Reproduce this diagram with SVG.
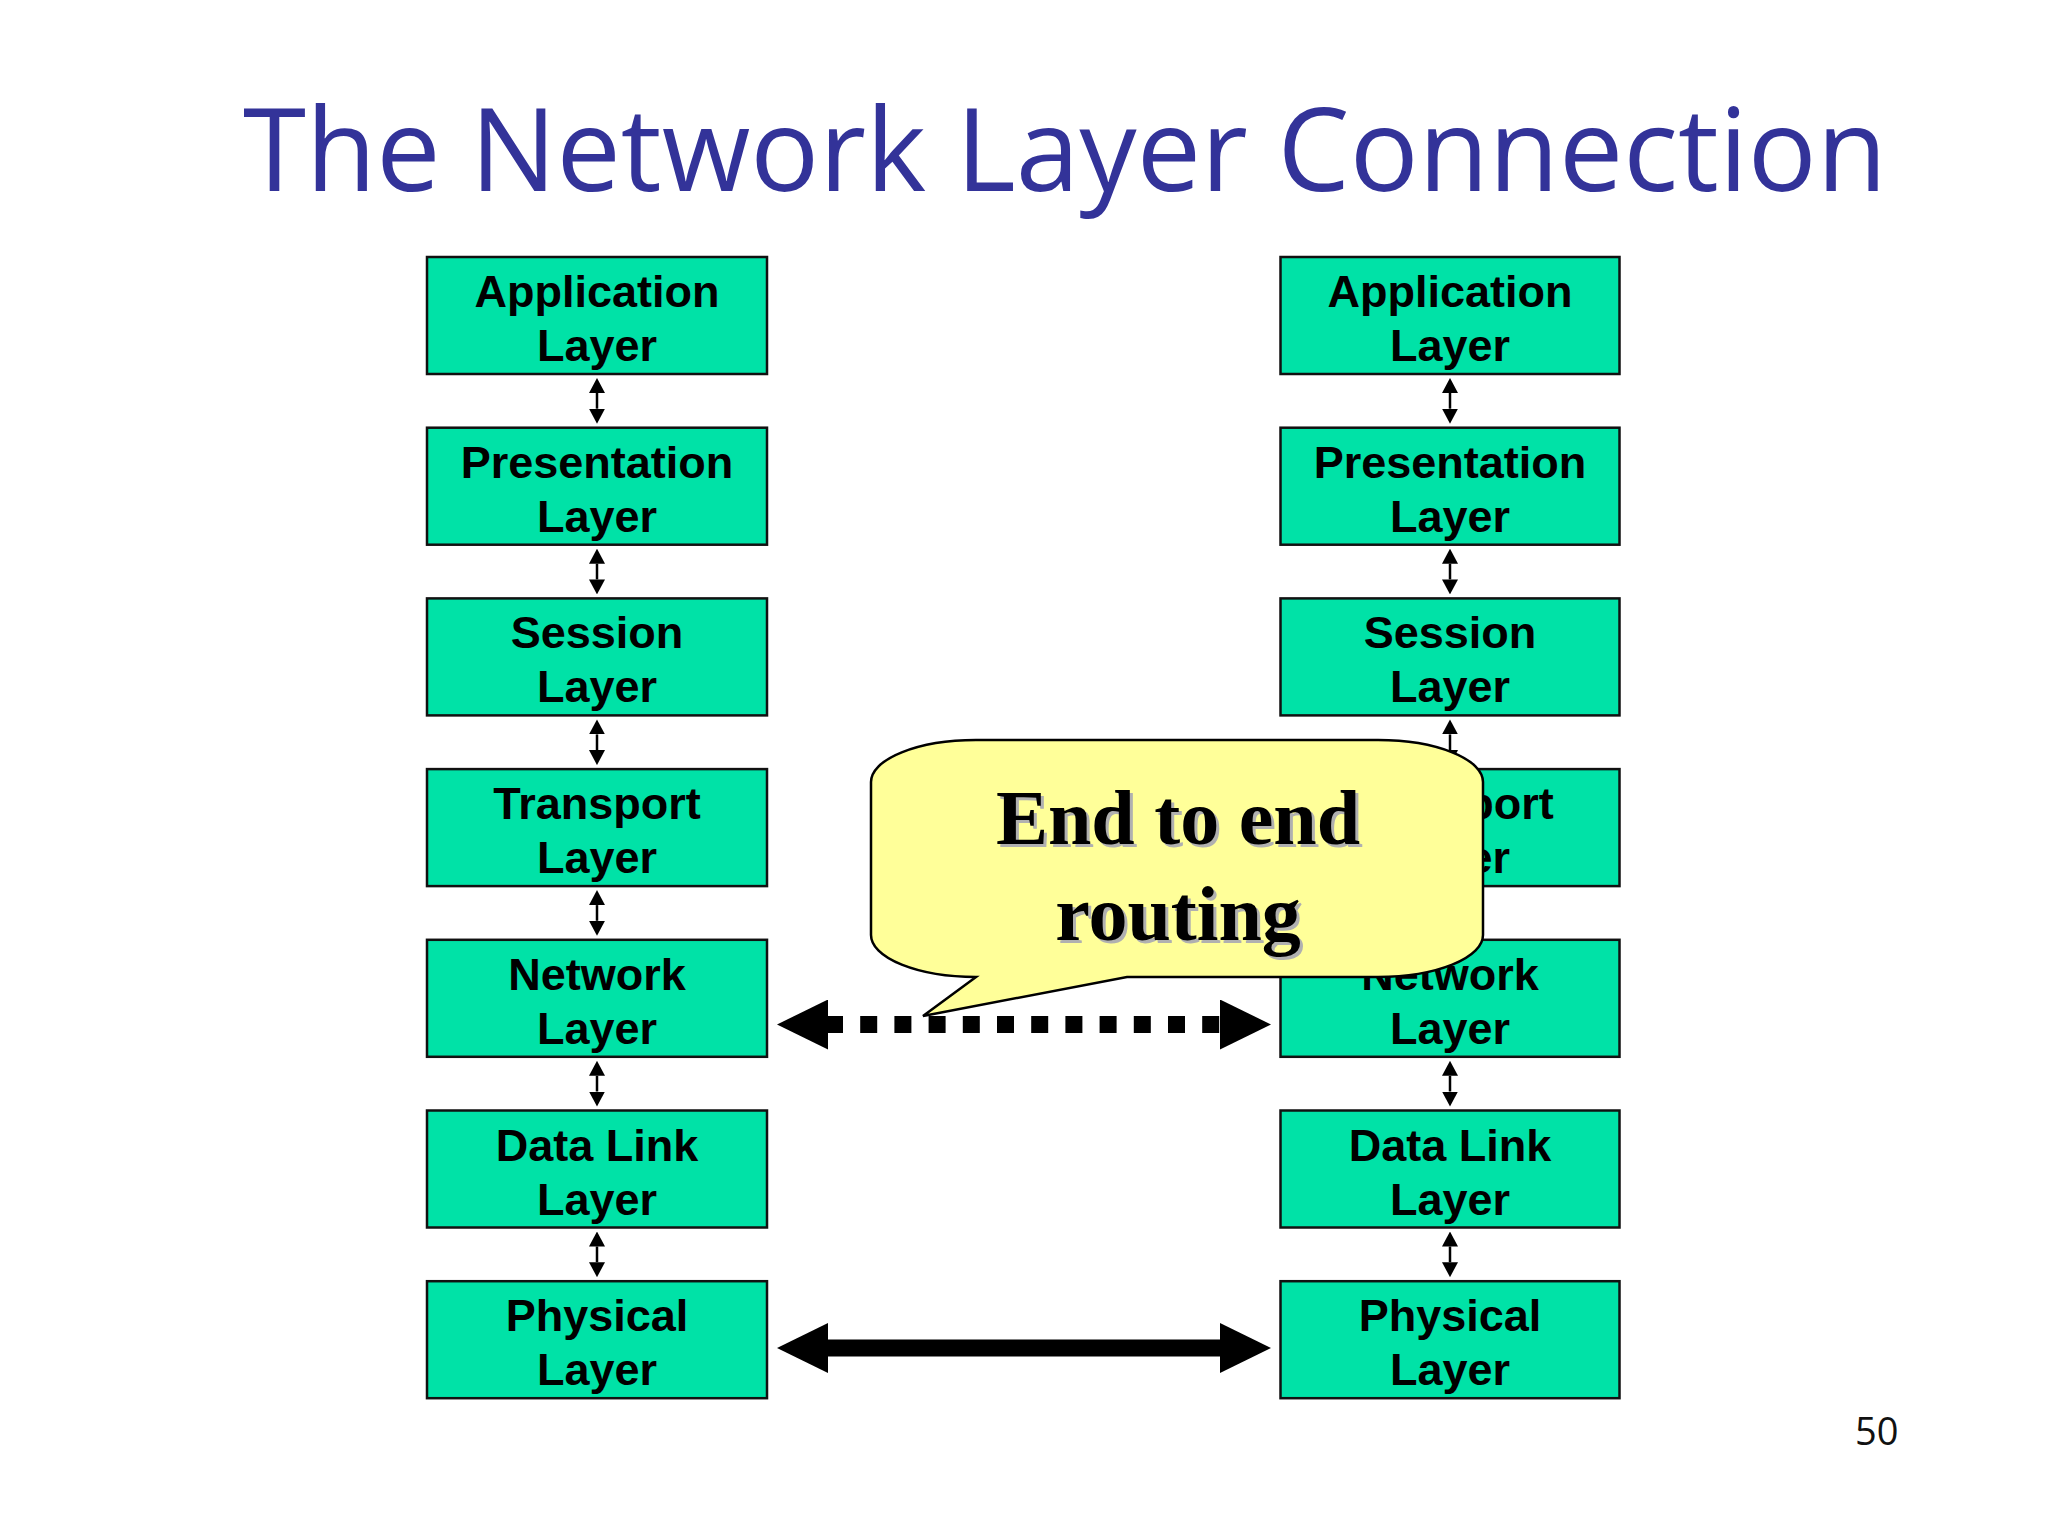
<svg xmlns="http://www.w3.org/2000/svg" width="2048" height="1536" viewBox="0 0 2048 1536">
<defs>
<style>
.box{fill:#00E2A7;stroke:#111;stroke-width:2.5}
.lbl{font-family:"Liberation Sans",Arial,sans-serif;font-weight:bold;font-size:45px;fill:#000;text-anchor:middle}
.title{font-family:"Open Sans","Noto Sans",sans-serif;font-size:114.5px;fill:#333399}
.pg{font-family:"Open Sans","Noto Sans",sans-serif;font-size:38px;fill:#111}
.sm{stroke:#000;stroke-width:2.5;fill:none}
.big{stroke:#000;stroke-width:17;fill:none}
.co{font-family:"Liberation Serif","Times New Roman",serif;font-weight:bold;font-size:78px;text-anchor:middle}
</style>
<marker id="hs" markerUnits="userSpaceOnUse" markerWidth="15" markerHeight="16" viewBox="0 0 15 16" refX="0" refY="8" orient="auto-start-reverse">
<path d="M0,0 L15,8 L0,16 Z" fill="#000"/>
</marker>
<marker id="hb" markerUnits="userSpaceOnUse" markerWidth="51" markerHeight="50" viewBox="0 0 51 50" refX="0" refY="25" orient="auto-start-reverse">
<path d="M0,0 L51,25 L0,50 Z" fill="#000"/>
</marker>
</defs>
<rect width="2048" height="1536" fill="#fff"/>
<text class="title" x="243" y="191">The Network Layer Connection</text>

<g id="L-app"><rect class="box" x="427" y="257" width="340" height="117"/><text class="lbl" x="597" y="307">Application</text><text class="lbl" x="597" y="361">Layer</text></g>
<g id="L-pres"><rect class="box" x="427" y="427.7" width="340" height="117"/><text class="lbl" x="597" y="477.7">Presentation</text><text class="lbl" x="597" y="531.7">Layer</text></g>
<g id="L-sess"><rect class="box" x="427" y="598.4" width="340" height="117"/><text class="lbl" x="597" y="648.4">Session</text><text class="lbl" x="597" y="702.4">Layer</text></g>
<g id="L-trans"><rect class="box" x="427" y="769.1" width="340" height="117"/><text class="lbl" x="597" y="819.1">Transport</text><text class="lbl" x="597" y="873.1">Layer</text></g>
<g id="L-net"><rect class="box" x="427" y="939.8" width="340" height="117"/><text class="lbl" x="597" y="989.8">Network</text><text class="lbl" x="597" y="1043.8">Layer</text></g>
<g id="L-dl"><rect class="box" x="427" y="1110.5" width="340" height="117"/><text class="lbl" x="597" y="1160.5">Data Link</text><text class="lbl" x="597" y="1214.5">Layer</text></g>
<g id="L-phys"><rect class="box" x="427" y="1281.2" width="340" height="117"/><text class="lbl" x="597" y="1331.2">Physical</text><text class="lbl" x="597" y="1385.2">Layer</text></g>

<g id="R-app"><rect class="box" x="1280.5" y="257" width="339" height="117"/><text class="lbl" x="1450" y="307">Application</text><text class="lbl" x="1450" y="361">Layer</text></g>
<g id="R-pres"><rect class="box" x="1280.5" y="427.7" width="339" height="117"/><text class="lbl" x="1450" y="477.7">Presentation</text><text class="lbl" x="1450" y="531.7">Layer</text></g>
<g id="R-sess"><rect class="box" x="1280.5" y="598.4" width="339" height="117"/><text class="lbl" x="1450" y="648.4">Session</text><text class="lbl" x="1450" y="702.4">Layer</text></g>
<g id="R-trans"><rect class="box" x="1280.5" y="769.1" width="339" height="117"/><text class="lbl" x="1450" y="819.1">Transport</text><text class="lbl" x="1450" y="873.1">Layer</text></g>
<g id="R-net"><rect class="box" x="1280.5" y="939.8" width="339" height="117"/><text class="lbl" x="1450" y="989.8">Network</text><text class="lbl" x="1450" y="1043.8">Layer</text></g>
<g id="R-dl"><rect class="box" x="1280.5" y="1110.5" width="339" height="117"/><text class="lbl" x="1450" y="1160.5">Data Link</text><text class="lbl" x="1450" y="1214.5">Layer</text></g>
<g id="R-phys"><rect class="box" x="1280.5" y="1281.2" width="339" height="117"/><text class="lbl" x="1450" y="1331.2">Physical</text><text class="lbl" x="1450" y="1385.2">Layer</text></g>

<g id="connectors">
<line class="sm" x1="597" y1="393" x2="597" y2="408.7" marker-start="url(#hs)" marker-end="url(#hs)"/>
<line class="sm" x1="597" y1="563.7" x2="597" y2="579.4" marker-start="url(#hs)" marker-end="url(#hs)"/>
<line class="sm" x1="597" y1="734.4" x2="597" y2="750.1" marker-start="url(#hs)" marker-end="url(#hs)"/>
<line class="sm" x1="597" y1="905.1" x2="597" y2="920.8" marker-start="url(#hs)" marker-end="url(#hs)"/>
<line class="sm" x1="597" y1="1075.8" x2="597" y2="1091.5" marker-start="url(#hs)" marker-end="url(#hs)"/>
<line class="sm" x1="597" y1="1246.5" x2="597" y2="1262.2" marker-start="url(#hs)" marker-end="url(#hs)"/>
<line class="sm" x1="1450" y1="393" x2="1450" y2="408.7" marker-start="url(#hs)" marker-end="url(#hs)"/>
<line class="sm" x1="1450" y1="563.7" x2="1450" y2="579.4" marker-start="url(#hs)" marker-end="url(#hs)"/>
<line class="sm" x1="1450" y1="734.4" x2="1450" y2="750.1" marker-start="url(#hs)" marker-end="url(#hs)"/>
<line class="sm" x1="1450" y1="905.1" x2="1450" y2="920.8" marker-start="url(#hs)" marker-end="url(#hs)"/>
<line class="sm" x1="1450" y1="1075.8" x2="1450" y2="1091.5" marker-start="url(#hs)" marker-end="url(#hs)"/>
<line class="sm" x1="1450" y1="1246.5" x2="1450" y2="1262.2" marker-start="url(#hs)" marker-end="url(#hs)"/>
<line class="big" x1="828" y1="1024.5" x2="1220" y2="1024.5" stroke-dasharray="17 17.2" stroke-dashoffset="2" marker-start="url(#hb)" marker-end="url(#hb)"/>
<line class="big" x1="828" y1="1348" x2="1220" y2="1348" marker-start="url(#hb)" marker-end="url(#hb)"/>
</g>

<g id="callout">
<path d="M976,977 L923,1016 L1127,977 L1378,977 A105 42 0 0 0 1483,935 L1483,782 A105 42 0 0 0 1378,740 L976,740 A105 42 0 0 0 871,782 L871,935 A105 42 0 0 0 976,977 Z" fill="#FFFF99" stroke="#000" stroke-width="2.5" stroke-linejoin="miter"/>
<text class="co" x="1181" y="847" fill="#b0b0b0">End to end</text>
<text class="co" x="1181" y="943" fill="#b0b0b0">routing</text>
<text class="co" x="1178" y="844" fill="#000">End to end</text>
<text class="co" x="1178" y="940" fill="#000">routing</text>
</g>

<text class="pg" x="1855" y="1445">50</text>
</svg>
